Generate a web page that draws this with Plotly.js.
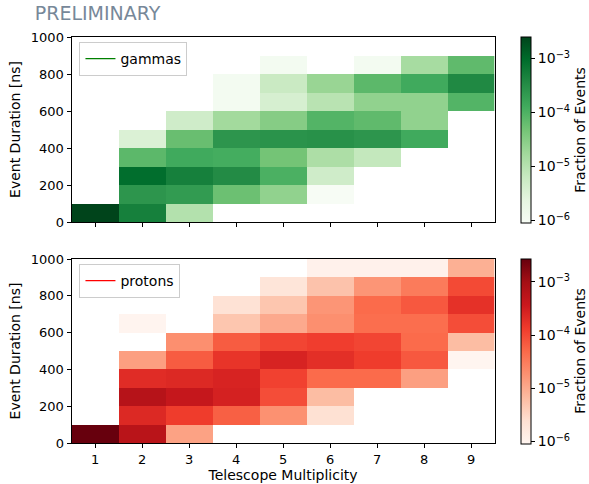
<!DOCTYPE html>
<html>
<head>
<meta charset="utf-8">
<script src="https://cdn.plot.ly/plotly-3.0.1.min.js"></script>
<style>html,body{margin:0;padding:0;background:#fff;}</style>
</head>
<body>
<div id="chart" style="width:589px;height:484px;"></div>
<script>
// Telescope multiplicity bin centres and duration bin centres (ns)
const multiplicity = [1, 2, 3, 4, 5, 6, 7, 8, 9];
const duration = [50, 150, 250, 350, 450, 550, 650, 750, 850, 950];
const xTickLabels = ['1','2','3','4','5','6','7','8','9'];

// Fraction of events, rows = duration bins (0-100 ... 900-1000), cols = multiplicity 1..9
const gammas = [
  [2.5e-3, 5e-4,   1.1e-5, null,   null,   null,   null,   null,   null],
  [null,   2.5e-4, 2.1e-4, 5.5e-5, 2.5e-5, 9e-7,   null,   null,   null],
  [null,   9e-4,   5e-4,   3.4e-4, 1.05e-4,5e-6,   null,   null,   null],
  [null,   7.6e-5, 1.3e-4, 1.2e-4, 4.7e-5, 1.3e-5, 7e-6,   null,   null],
  [null,   3.4e-6, 5.9e-5, 2.5e-4, 2.7e-4, 2.9e-4, 2.5e-4, 1.3e-4, null],
  [null,   null,   5e-6,   1.65e-5,3.2e-5, 9e-5,   7e-5,   2.5e-5, null],
  [null,   null,   null,   1.1e-6, 4e-6,   9.5e-6, 2.5e-5, 2.5e-5, 9e-5],
  [null,   null,   null,   1.1e-6, 5.9e-6, 2.1e-5, 7.6e-5, 1.3e-4, 3.7e-4],
  [null,   null,   null,   null,   1.1e-6, null,   1.1e-6, 1.5e-5, 7e-5],
  [null,   null,   null,   null,   null,   null,   null,   null,   null]
];
const protons = [
  [2.75e-3,6e-4,   1.25e-5,null,   null,   null,   null,   null,   null],
  [null,   2.3e-4, 1.35e-4,6.2e-5, 1.9e-5, 2.4e-6, null,   null,   null],
  [null,   6.5e-4, 4.3e-4, 2.9e-4, 9.3e-5, 6.5e-6, null,   null,   null],
  [null,   2.1e-4, 2.3e-4, 2.7e-4, 1.2e-4, 4.9e-5, 4.9e-5, 1.35e-5,null],
  [null,   1.35e-5,6.8e-5, 1.65e-4,2.7e-4, 1.9e-4, 1.35e-4,7.3e-5, 9.2e-7],
  [null,   null,   2e-5,   6.8e-5, 1.1e-4, 1.3e-4, 1.1e-4, 4.9e-5, 6.5e-6],
  [null,   9.5e-7, null,   5.1e-6, 1.05e-5,2e-5,   4.5e-5, 4.5e-5, 9.3e-5],
  [null,   null,   null,   2.3e-6, 5.1e-6, 1.7e-5, 4.9e-5, 7.3e-5, 1.8e-4],
  [null,   null,   null,   null,   1.95e-6,5.6e-6, 1.7e-5, 3.3e-5, 1e-4],
  [null,   null,   null,   null,   null,   1.1e-6, 1.1e-6, 1.1e-6, 9e-6]
];
const cbTickVals = [-6, -5, -4, -3];
const cbTickText = ['10<sup>−6</sup>', '10<sup>−5</sup>', '10<sup>−4</sup>', '10<sup>−3</sup>'];

const greens = ['#f7fcf5','#e5f5e0','#c7e9c0','#a1d99b','#74c476','#41ab5d','#238b45','#006d2c','#00441b'];
const reds   = ['#fff5f0','#fee0d2','#fcbba1','#fc9272','#fb6a4a','#ef3b2c','#cb181d','#a50f15','#67000d'];
const toScale = c => c.map((col, i) => [i / (c.length - 1), col]);

function logGrid(g) { return g.map(r => r.map(v => v == null ? null : Math.log10(v))); }
function range(g) {
  const vals = g.flat().filter(v => v != null);
  return [Math.log10(Math.min(...vals)), Math.log10(Math.max(...vals))];
}
const rg = range(gammas), rp = range(protons);

const font = {family: 'DejaVu Sans, sans-serif', size: 13, color: '#000'};
const W = 589, H = 484;

function cb(yc, len) {
  return {
    x: 525 / W, xanchor: 'left', xref: 'paper', xpad: 0, ypad: 0,
    y: yc, yanchor: 'middle', len: len, lenmode: 'fraction',
    thickness: 10, thicknessmode: 'pixels',
    outlinewidth: 1, outlinecolor: '#000',
    tickvals: cbTickVals, ticktext: cbTickText,
    ticks: 'outside', ticklen: 4, tickcolor: '#000',
    tickfont: {family: font.family, size: 14, color: '#000'},
    title: {text: 'Fraction of Events', side: 'right', font: {family: font.family, size: 14, color: '#000'}}
  };
}

const data = [
  {
    type: 'heatmap', x: multiplicity, y: duration, z: logGrid(gammas),
    zmin: rg[0], zmax: rg[1], colorscale: toScale(greens),
    xaxis: 'x', yaxis: 'y', hoverongaps: false,
    colorbar: cb(1 - 130 / H, 186 / H)
  },
  {
    type: 'heatmap', x: multiplicity, y: duration, z: logGrid(protons),
    zmin: rp[0], zmax: rp[1], colorscale: toScale(reds),
    xaxis: 'x2', yaxis: 'y2', hoverongaps: false,
    colorbar: cb(1 - 351 / H, 185 / H)
  },
  {type: 'scatter', x: [null], y: [null], mode: 'lines', name: 'gammas',
   line: {color: '#008000', width: 1.3}, xaxis: 'x', yaxis: 'y', legend: 'legend', showlegend: true},
  {type: 'scatter', x: [null], y: [null], mode: 'lines', name: 'protons',
   line: {color: '#ff0000', width: 1.3}, xaxis: 'x2', yaxis: 'y2', legend: 'legend2', showlegend: true}
];

function xax(domainY, showLabels, anchor) {
  return {
    domain: [72 / W, 498 / W], anchor: anchor, range: [0.5, 9.5],
    tickvals: multiplicity, ticktext: xTickLabels, showticklabels: showLabels,
    ticks: 'outside', ticklen: 4, tickcolor: '#000',
    showline: true, mirror: true, linecolor: '#000', linewidth: 1,
    showgrid: false, zeroline: false, tickfont: font
  };
}
function yax(domain, anchor) {
  return {
    domain: domain, anchor: anchor, range: [0, 1000],
    tickvals: [0, 200, 400, 600, 800, 1000],
    ticks: 'outside', ticklen: 4, tickcolor: '#000',
    showline: true, mirror: true, linecolor: '#000', linewidth: 1,
    showgrid: false, zeroline: false, tickfont: font,
    title: {text: 'Event Duration [ns]', font: {family: font.family, size: 14, color: '#000'}, standoff: 6}
  };
}

const legendStyle = (y) => ({
  x: 80 / W, y: y, xanchor: 'left', yanchor: 'top', xref: 'paper', yref: 'paper',
  bgcolor: 'rgba(255,255,255,0.85)', bordercolor: '#cccccc', borderwidth: 1,
  font: {family: font.family, size: 14, color: '#000'}
});

const layout = {
  width: W, height: H,
  margin: {l: 0, r: 0, t: 0, b: 0},
  paper_bgcolor: '#fff', plot_bgcolor: '#fff',
  font: font,
  title: {text: 'PRELIMINARY', x: 35 / W, xanchor: 'left', xref: 'paper',
          y: 1 - 13 / H, yanchor: 'middle', yref: 'paper',
          font: {family: font.family, size: 19, color: '#778899'}},
  xaxis: xax(null, false, 'y'),
  yaxis: yax([1 - 222 / H, 1 - 37 / H], 'x'),
  xaxis2: Object.assign(xax(null, true, 'y2'), {
    title: {text: 'Telescope Multiplicity', font: {family: font.family, size: 14, color: '#000'}, standoff: 4}
  }),
  yaxis2: yax([1 - 443 / H, 1 - 259 / H], 'x2'),
  legend: legendStyle(1 - 42 / H),
  legend2: legendStyle(1 - 264 / H),
  showlegend: true
};

Plotly.newPlot('chart', data, layout, {displayModeBar: false, staticPlot: true});
</script>
</body>
</html>
